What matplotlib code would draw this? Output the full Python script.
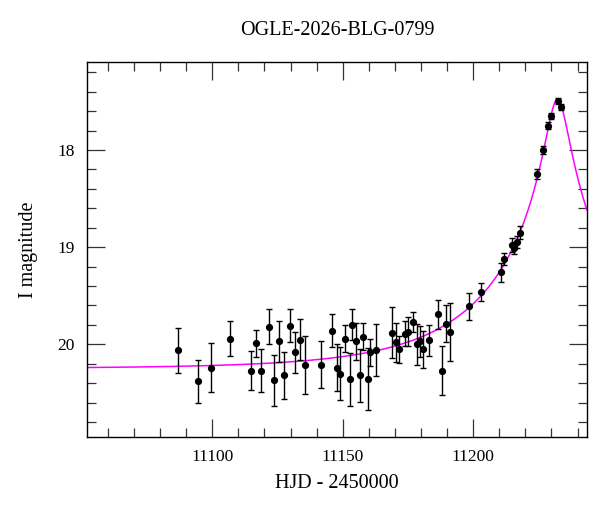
#!/usr/bin/env python3
"""Microlensing light curve OGLE-2026-BLG-0799 with PSPL model."""

import numpy as np
import matplotlib
matplotlib.use("Agg")
import matplotlib.pyplot as plt
from matplotlib.ticker import MultipleLocator

# observed photometry (HJD - 2450000, I mag, error)
hjd = [11086.7, 11094.6, 11099.7, 11106.8, 11114.7, 11116.6, 11118.8, 11121.7,
       11123.6, 11125.7, 11127.6, 11129.7, 11131.7, 11133.7, 11135.7, 11141.8,
       11145.7, 11147.7, 11148.8, 11150.8, 11152.7, 11153.6, 11154.9, 11156.6,
       11157.8, 11159.7, 11160.6, 11162.7, 11168.9, 11170.6, 11171.7, 11173.7,
       11174.9, 11176.8, 11178.6, 11179.8, 11180.8, 11182.9, 11186.7, 11187.9,
       11189.7, 11191.1, 11198.5, 11202.8, 11210.7, 11211.9, 11214.7, 11215.7,
       11216.8, 11217.8, 11224.6, 11226.6, 11228.6, 11229.7, 11232.6, 11233.8]
mag = [20.06, 20.38, 20.24, 19.94, 20.27, 19.99, 20.27, 19.82,
       20.37, 19.97, 20.32, 19.81, 20.08, 19.95, 20.21, 20.21,
       19.86, 20.24, 20.30, 19.94, 20.36, 19.80, 19.97, 20.32,
       19.92, 20.36, 20.08, 20.06, 19.88, 19.98, 20.05, 19.89,
       19.87, 19.77, 20.00, 19.97, 20.05, 19.96, 19.69, 20.27,
       19.79, 19.87, 19.61, 19.46, 19.26, 19.12, 18.98, 19.01,
       18.95, 18.85, 18.25, 18.00, 17.75, 17.65, 17.50, 17.56]
err = [0.23, 0.22, 0.25, 0.18, 0.20, 0.14, 0.22, 0.18,
       0.26, 0.21, 0.24, 0.17, 0.21, 0.21, 0.30, 0.24,
       0.17, 0.24, 0.27, 0.14, 0.27, 0.16, 0.19, 0.27,
       0.14, 0.32, 0.14, 0.27, 0.26, 0.20, 0.14, 0.13,
       0.15, 0.10, 0.21, 0.16, 0.19, 0.16, 0.15, 0.25,
       0.19, 0.30, 0.14, 0.09, 0.10, 0.06, 0.07, 0.06,
       0.06, 0.065, 0.05, 0.04, 0.035, 0.03, 0.03, 0.03]

# point-source point-lens model parameters
T0 = 11232.3
TE = 53.0
U0 = 0.078
I_BASE = 20.25

X_RANGE = (11052.0, 11243.6)
Y_RANGE = (20.95, 17.10)


def pspl_mag(t):
    u = np.sqrt(U0 ** 2 + ((t - T0) / TE) ** 2)
    amp = (u ** 2 + 2) / (u * np.sqrt(u ** 2 + 4))
    return I_BASE - 2.5 * np.log10(amp)


plt.rcParams["font.family"] = ["Liberation Serif", "DejaVu Serif"]

fig = plt.figure(figsize=(6.0, 5.12), dpi=100)
ax = fig.add_axes([0.145, 0.147, 0.8333, 0.731])

t_model = np.linspace(X_RANGE[0], X_RANGE[1], 800)
ax.plot(t_model, pspl_mag(t_model), color="#ff00ff", lw=1.1, zorder=2)

ax.errorbar(hjd, mag, yerr=err, fmt="o", color="black", ms=4.2,
            elinewidth=1.0, capsize=2.4, capthick=1.0, zorder=3)

ax.set_xlim(*X_RANGE)
ax.set_ylim(*Y_RANGE)

ax.xaxis.set_major_locator(MultipleLocator(50))
ax.xaxis.set_minor_locator(MultipleLocator(10))
ax.yaxis.set_major_locator(MultipleLocator(1))
ax.yaxis.set_minor_locator(MultipleLocator(0.2))

ax.tick_params(which="both", direction="in", top=True, right=True,
               width=0.9, color="#333333", labelsize=12.5)
ax.tick_params(which="major", length=13, pad=9)
ax.tick_params(which="minor", length=6.5)
for sp in ax.spines.values():
    sp.set_linewidth(1.0)

ax.set_xlabel("HJD - 2450000", fontsize=14.5, labelpad=6)
ax.set_ylabel("I magnitude", fontsize=14.5, labelpad=14)
ax.set_title("OGLE-2026-BLG-0799", fontsize=14.5, pad=20)

fig.savefig("out.png", dpi=100)
